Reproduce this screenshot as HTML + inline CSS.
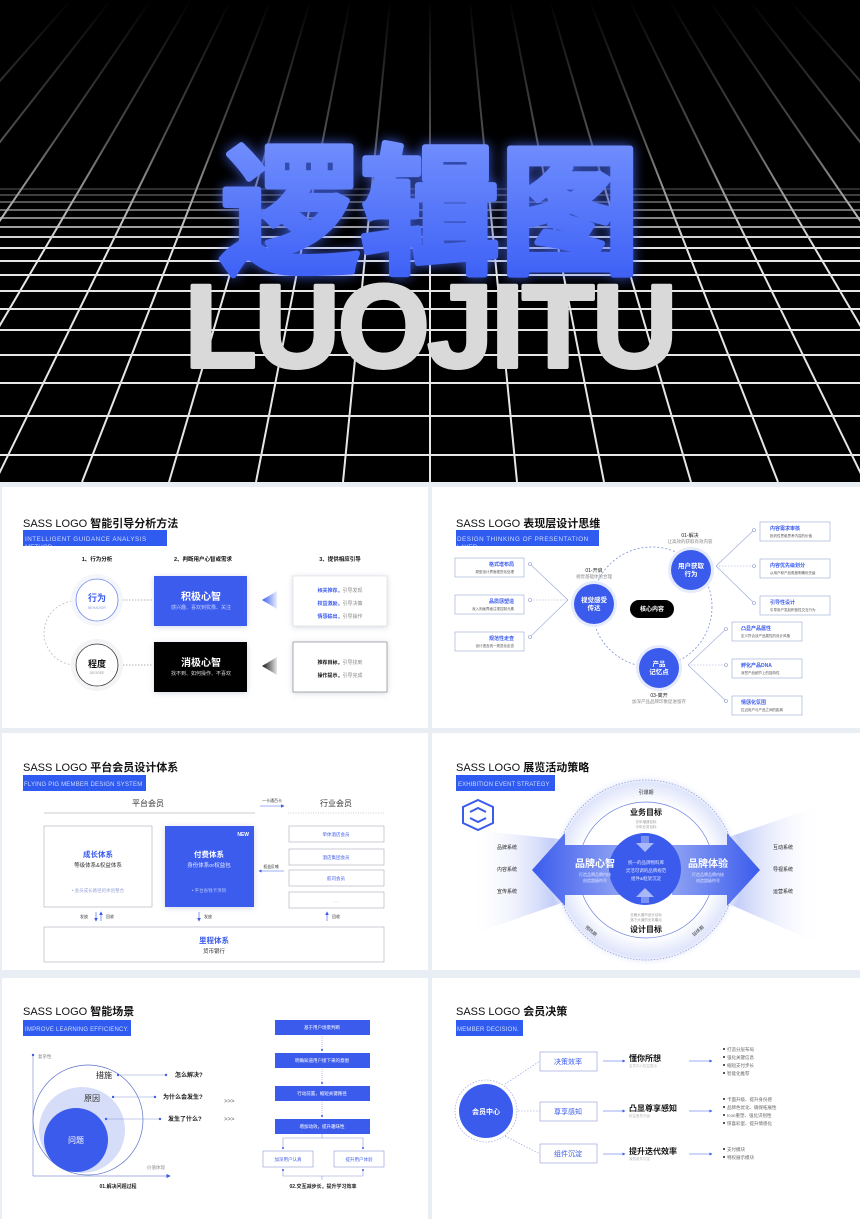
<!DOCTYPE html>
<html><head><meta charset="utf-8"><style>
html,body{margin:0;padding:0;background:#e9eef4;}
svg{display:block;}
text{font-family:"Liberation Sans","Noto Sans CJK SC",sans-serif;}
</style></head><body>
<svg width="860" height="1219" viewBox="0 0 860 1219" xmlns="http://www.w3.org/2000/svg">
<defs>
<linearGradient id="topfade" x1="0" y1="0" x2="0" y2="1">
<stop offset="0" stop-color="#000" stop-opacity="1"/><stop offset="0.55" stop-color="#000" stop-opacity="0.65"/><stop offset="1" stop-color="#000" stop-opacity="0"/></linearGradient>
<linearGradient id="cn" x1="0" y1="0" x2="0" y2="1"><stop offset="0" stop-color="#7f9bff"/><stop offset="1" stop-color="#3559f5"/></linearGradient>
<filter id="glow" x="-20%" y="-20%" width="140%" height="140%"><feGaussianBlur stdDeviation="6" result="b"/><feFlood flood-color="#4a6cff" flood-opacity="0.8"/><feComposite in2="b" operator="in"/><feMerge><feMergeNode/><feMergeNode in="SourceGraphic"/></feMerge></filter>
<filter id="sh" x="-20%" y="-20%" width="140%" height="140%"><feDropShadow dx="0" dy="1" stdDeviation="3" flood-color="#8090b0" flood-opacity="0.35"/></filter>
<linearGradient id="triB" x1="0" x2="1"><stop offset="0" stop-color="#3b5bed"/><stop offset="1" stop-color="#3b5bed" stop-opacity="0.1"/></linearGradient>
<linearGradient id="triK" x1="0" x2="1"><stop offset="0" stop-color="#111"/><stop offset="1" stop-color="#111" stop-opacity="0.1"/></linearGradient>
<linearGradient id="fanL" x1="1" x2="0"><stop offset="0" stop-color="#a9b8f5"/><stop offset="1" stop-color="#fff" stop-opacity="0"/></linearGradient>
<linearGradient id="fanR" x1="0" x2="1"><stop offset="0" stop-color="#a9b8f5"/><stop offset="1" stop-color="#fff" stop-opacity="0"/></linearGradient>
<linearGradient id="arrL" x1="0" x2="1"><stop offset="0" stop-color="#3b5bed"/><stop offset="1" stop-color="#8ea2f3"/></linearGradient>
<linearGradient id="arrR" x1="1" x2="0"><stop offset="0" stop-color="#3b5bed"/><stop offset="1" stop-color="#8ea2f3"/></linearGradient>
<radialGradient id="halo"><stop offset="0.7" stop-color="#fff"/><stop offset="0.9" stop-color="#dfe5fb"/><stop offset="1" stop-color="#fff" stop-opacity="0"/></radialGradient>
<marker id="ah" markerWidth="6" markerHeight="6" refX="5" refY="3" orient="auto"><path d="M0,0 L6,3 L0,6z" fill="#3b5bed"/></marker>
<clipPath id="c1"><rect x="23" y="530" width="144" height="16"/></clipPath>
<clipPath id="c2"><rect x="456" y="530" width="143" height="16"/></clipPath>
<clipPath id="c3"><rect x="23" y="775" width="123" height="16"/></clipPath>
<clipPath id="c4"><rect x="456" y="775" width="99" height="16"/></clipPath>
<clipPath id="c5"><rect x="23" y="1020" width="108" height="16"/></clipPath>
</defs>

<!-- HERO -->
<rect x="0" y="0" width="860" height="482" fill="#000"/>
<g stroke="#e6e6e6" stroke-width="2" fill="none">
<line x1="0" y1="455" x2="860" y2="455"/><line x1="0" y1="416" x2="860" y2="416"/><line x1="0" y1="383" x2="860" y2="383"/><line x1="0" y1="355" x2="860" y2="355"/><line x1="0" y1="330" x2="860" y2="330"/><line x1="0" y1="309" x2="860" y2="309"/><line x1="0" y1="291" x2="860" y2="291"/><line x1="0" y1="275" x2="860" y2="275"/><line x1="0" y1="261" x2="860" y2="261"/><line x1="0" y1="248" x2="860" y2="248"/><line x1="0" y1="237" x2="860" y2="237"/><line x1="0" y1="227" x2="860" y2="227" stroke-opacity="0.8"/><line x1="0" y1="218" x2="860" y2="218" stroke-opacity="0.7"/><line x1="0" y1="210" x2="860" y2="210" stroke-opacity="0.6"/><line x1="0" y1="202" x2="860" y2="202" stroke-opacity="0.5"/><line x1="0" y1="195" x2="860" y2="195" stroke-opacity="0.4"/><line x1="0" y1="189" x2="860" y2="189" stroke-opacity="0.3"/>
<line x1="430" y1="-408" x2="430" y2="482"/>
<line x1="430" y1="-408" x2="517" y2="482"/><line x1="430" y1="-408" x2="343" y2="482"/>
<line x1="430" y1="-408" x2="604" y2="482"/><line x1="430" y1="-408" x2="256" y2="482"/>
<line x1="430" y1="-408" x2="691" y2="482"/><line x1="430" y1="-408" x2="169" y2="482"/>
<line x1="430" y1="-408" x2="778" y2="482"/><line x1="430" y1="-408" x2="82" y2="482"/>
<line x1="430" y1="-408" x2="865" y2="482"/><line x1="430" y1="-408" x2="-5" y2="482"/>
<line x1="430" y1="-408" x2="952" y2="482"/><line x1="430" y1="-408" x2="-92" y2="482"/>
<line x1="430" y1="-408" x2="1039" y2="482"/><line x1="430" y1="-408" x2="-179" y2="482"/>
<line x1="430" y1="-408" x2="1126" y2="482"/><line x1="430" y1="-408" x2="-266" y2="482"/>
<line x1="430" y1="-408" x2="1213" y2="482"/><line x1="430" y1="-408" x2="-353" y2="482"/>
</g>
<rect x="0" y="0" width="860" height="250" fill="url(#topfade)"/>
<text x="430" y="262" text-anchor="middle" font-size="140" font-weight="bold" fill="url(#cn)" stroke="url(#cn)" stroke-width="6" stroke-linejoin="round" filter="url(#glow)" style="font-family:'Noto Sans CJK SC','WenQuanYi Zen Hei',sans-serif" letter-spacing="0">逻辑图</text>
<text x="430" y="367" text-anchor="middle" font-size="118" font-weight="bold" fill="#d9d9d9" stroke="#d9d9d9" stroke-width="4" stroke-linejoin="round" letter-spacing="-2">LUOJITU</text>

<!-- PANELS -->
<rect x="2" y="487" width="426" height="241" fill="#fff"/>
<rect x="432" y="487" width="428" height="241" fill="#fff"/>
<rect x="2" y="733" width="426" height="237" fill="#fff"/>
<rect x="432" y="733" width="428" height="237" fill="#fff"/>
<rect x="2" y="978" width="426" height="241" fill="#fff"/>
<rect x="432" y="978" width="428" height="241" fill="#fff"/>

<!-- Panel 1 -->
<text x="23" y="527" font-size="11" fill="#111">SASS LOGO <tspan font-weight="bold">智能引导分析方法</tspan></text>
<rect x="23" y="530" width="144" height="16" fill="#2f5bf0"/>
<g clip-path="url(#c1)"><text x="25" y="541" font-size="6.3" fill="#cfdcff" letter-spacing="0.5">INTELLIGENT GUIDANCE ANALYSIS</text><text x="25" y="549" font-size="6.3" fill="#cfdcff">METHOD</text></g>
<g font-size="5.5" font-weight="bold" fill="#111" text-anchor="middle">
<text x="97" y="561">1、行为分析</text><text x="203" y="561">2、判断用户心智或需求</text><text x="340" y="561">3、提供相应引导</text></g>
<path d="M76,601 A32,32 0 0 0 76,665" fill="none" stroke="#bbb" stroke-dasharray="2,2" stroke-width="0.8"/>
<line x1="123" y1="600" x2="152" y2="600" stroke="#999" stroke-dasharray="1.5,1.5" stroke-width="0.8"/>
<line x1="123" y1="665" x2="152" y2="665" stroke="#999" stroke-dasharray="1.5,1.5" stroke-width="0.8"/>
<circle cx="97" cy="600" r="26" fill="#f4f6fc"/><circle cx="97" cy="600" r="21" fill="#fff" stroke="#6d86e8" stroke-width="0.8"/>
<text x="97" y="601" font-size="9" font-weight="bold" fill="#3b5bed" text-anchor="middle">行为</text><text x="97" y="609" font-size="3.5" fill="#8fa0e0" text-anchor="middle">BEHAVIOR</text>
<circle cx="97" cy="665" r="26" fill="#f4f4f6"/><circle cx="97" cy="665" r="21" fill="#fff" stroke="#333" stroke-width="0.8"/>
<text x="97" y="667" font-size="9" font-weight="bold" fill="#111" text-anchor="middle">程度</text><text x="97" y="674" font-size="3.5" fill="#999" text-anchor="middle">DEGREE</text>
<rect x="154" y="576" width="93" height="50" fill="#3b5bed" filter="url(#sh)"/>
<text x="201" y="600" font-size="10" font-weight="bold" fill="#fff" text-anchor="middle">积极心智</text>
<text x="201" y="609" font-size="5" fill="#c5d0fb" text-anchor="middle">感兴趣、喜欢到犹豫、关注</text>
<rect x="154" y="642" width="93" height="50" fill="#000" filter="url(#sh)"/>
<text x="201" y="666" font-size="10" font-weight="bold" fill="#fff" text-anchor="middle">消极心智</text>
<text x="201" y="675" font-size="5" fill="#ddd" text-anchor="middle">找不到、如何操作、不喜欢</text>
<polygon points="262,600 277,591 277,609" fill="url(#triB)"/>
<polygon points="262,666 277,657 277,675" fill="url(#triK)"/>
<rect x="293" y="576" width="94" height="50" fill="#fff" stroke="#ddd" stroke-width="0.6" filter="url(#sh)"/>
<g font-size="5" text-anchor="middle"><text x="340" y="592"><tspan fill="#3b5bed" font-weight="bold">相关推荐，</tspan><tspan fill="#888">引导发现</tspan></text>
<text x="340" y="605"><tspan fill="#3b5bed" font-weight="bold">权益激励，</tspan><tspan fill="#888">引导决策</tspan></text>
<text x="340" y="618"><tspan fill="#3b5bed" font-weight="bold">情感输出，</tspan><tspan fill="#888">引导操作</tspan></text></g>
<rect x="293" y="642" width="94" height="50" fill="#fff" stroke="#777" stroke-width="0.6" filter="url(#sh)"/>
<g font-size="5" text-anchor="middle"><text x="340" y="664"><tspan fill="#111" font-weight="bold">推荐目标，</tspan><tspan fill="#888">引导找到</tspan></text>
<text x="340" y="677"><tspan fill="#111" font-weight="bold">操作提示，</tspan><tspan fill="#888">引导完成</tspan></text></g>

<!-- Panel 2 -->
<text x="456" y="527" font-size="11" fill="#111">SASS LOGO <tspan font-weight="bold">表现层设计思维</tspan></text>
<rect x="456" y="530" width="143" height="16" fill="#2f5bf0"/>
<g clip-path="url(#c2)"><text x="457" y="541" font-size="6.3" fill="#cfdcff" letter-spacing="0.5">DESIGN THINKING OF PRESENTATION</text><text x="457" y="549" font-size="6.3" fill="#cfdcff">LAYER</text></g>
<circle cx="652" cy="607" r="60" fill="none" stroke="#7d8fd8" stroke-width="0.8" stroke-dasharray="2,2"/>
<g stroke="#9aa8d6" stroke-width="0.6" fill="none">
<line x1="530" y1="564" x2="568" y2="600"/><line x1="530" y1="600" x2="568" y2="600" stroke-dasharray="1.5,1.5"/><line x1="530" y1="637" x2="568" y2="600"/>
<line x1="716" y1="566" x2="754" y2="530"/><line x1="716" y1="566" x2="754" y2="566" stroke-dasharray="1.5,1.5"/><line x1="716" y1="566" x2="754" y2="603"/>
<line x1="688" y1="665" x2="726" y2="629"/><line x1="688" y1="665" x2="726" y2="665" stroke-dasharray="1.5,1.5"/><line x1="688" y1="665" x2="726" y2="701"/></g>
<g fill="#fff" stroke="#8795c8" stroke-width="0.6"><circle cx="530" cy="564" r="1.5"/><circle cx="530" cy="600" r="1.5"/><circle cx="530" cy="637" r="1.5"/><circle cx="754" cy="530" r="1.5"/><circle cx="754" cy="566" r="1.5"/><circle cx="754" cy="603" r="1.5"/><circle cx="726" cy="629" r="1.5"/><circle cx="726" cy="665" r="1.5"/><circle cx="726" cy="701" r="1.5"/></g>
<g fill="#fff" stroke="#9aa8d6" stroke-width="0.6">
<rect x="455" y="558" width="69" height="19"/><rect x="455" y="595" width="69" height="19"/><rect x="455" y="632" width="69" height="19"/>
<rect x="760" y="522" width="70" height="19"/><rect x="760" y="559" width="70" height="19"/><rect x="760" y="596" width="70" height="19"/>
<rect x="732" y="622" width="70" height="19"/><rect x="732" y="659" width="70" height="19"/><rect x="732" y="696" width="70" height="19"/></g>
<g font-size="5" fill="#3b5bed" font-weight="bold">
<text x="514" y="566" text-anchor="end">格式塔布局</text><text x="514" y="603" text-anchor="end">品质感塑造</text><text x="514" y="640" text-anchor="end">规范性走查</text>
<text x="770" y="530">内容需求审核</text><text x="770" y="567">内容优先级划分</text><text x="770" y="604">引导性设计</text>
<text x="741" y="630">凸显产品属性</text><text x="741" y="667">孵化产品DNA</text><text x="741" y="704">情感化氛围</text></g>
<g font-size="3.5" fill="#555">
<text x="514" y="573" text-anchor="end">原型设计界面视觉化处理</text><text x="514" y="610" text-anchor="end">深入刻画界面注视控制元素</text><text x="514" y="647" text-anchor="end">设计语言统一规范化走查</text>
<text x="770" y="537">批判性思维思考内容的价值</text><text x="770" y="574">从用户和产品角度明确优先级</text><text x="770" y="611">引导用户发起积极性交互行为</text>
<text x="741" y="637">定义符合该产品属性的设计风格</text><text x="741" y="674">深挖产品细节上的独特性</text><text x="741" y="711">拉近用户与产品之间的距离</text></g>
<circle cx="594" cy="604" r="23" fill="#e6ebfc"/><circle cx="594" cy="604" r="20" fill="#3b5bed"/>
<text x="594" y="602" font-size="6.5" font-weight="bold" fill="#fff" text-anchor="middle">视觉感受</text><text x="594" y="610" font-size="6.5" font-weight="bold" fill="#fff" text-anchor="middle">传达</text>
<circle cx="691" cy="570" r="23" fill="#e6ebfc"/><circle cx="691" cy="570" r="20" fill="#3b5bed"/>
<text x="691" y="568" font-size="6.5" font-weight="bold" fill="#fff" text-anchor="middle">用户获取</text><text x="691" y="576" font-size="6.5" font-weight="bold" fill="#fff" text-anchor="middle">行为</text>
<circle cx="659" cy="668" r="23" fill="#e6ebfc"/><circle cx="659" cy="668" r="20" fill="#3b5bed"/>
<text x="659" y="666" font-size="6.5" font-weight="bold" fill="#fff" text-anchor="middle">产品</text><text x="659" y="674" font-size="6.5" font-weight="bold" fill="#fff" text-anchor="middle">记忆点</text>
<rect x="630" y="600" width="44" height="18" rx="9" fill="#000"/>
<text x="652" y="611" font-size="6" font-weight="bold" fill="#fff" text-anchor="middle">核心内容</text>
<g font-size="5" text-anchor="middle"><text x="594" y="572" fill="#222">01-开启</text><text x="594" y="578" fill="#888" font-size="4.5">视觉基础体验合理</text>
<text x="690" y="537" fill="#222">01-解决</text><text x="690" y="543" fill="#888" font-size="4.5">让高效的获取有效内容</text>
<text x="659" y="697" fill="#222">03-离开</text><text x="659" y="703" fill="#888" font-size="4.5">加深产品品牌印象促进留存</text></g>

<!-- Panel 3 -->
<text x="23" y="771" font-size="11" fill="#111">SASS LOGO <tspan font-weight="bold">平台会员设计体系</tspan></text>
<rect x="23" y="775" width="123" height="16" fill="#2f5bf0"/>
<g clip-path="url(#c3)"><text x="24" y="786" font-size="6" fill="#cfdcff" letter-spacing="0.2">FLYING PIG MEMBER DESIGN SYSTEM</text></g>
<text x="148" y="806" font-size="8" fill="#333" text-anchor="middle">平台会员</text>
<text x="336" y="806" font-size="8" fill="#333" text-anchor="middle">行业会员</text>
<line x1="44" y1="813" x2="255" y2="813" stroke="#999" stroke-width="0.6"/>
<line x1="288" y1="813" x2="385" y2="813" stroke="#999" stroke-width="0.6" stroke-dasharray="1,1.5"/>
<text x="272" y="802" font-size="4" fill="#333" text-anchor="middle">一卡通百卡</text>
<line x1="260" y1="806" x2="284" y2="806" stroke="#3b5bed" stroke-width="0.6" marker-end="url(#ah)"/>
<rect x="44" y="826" width="108" height="81" fill="#fff" stroke="#aab" stroke-width="0.6"/>
<text x="98" y="857" font-size="7.5" font-weight="bold" fill="#3b5bed" text-anchor="middle">成长体系</text>
<text x="98" y="867" font-size="5.5" fill="#333" text-anchor="middle">等级体系&amp;权益体系</text>
<text x="98" y="892" font-size="4.5" fill="#9aa6d8" text-anchor="middle">• 会员成长路径的体验整合</text>
<rect x="165" y="826" width="89" height="81" fill="#3b5bed" filter="url(#sh)"/>
<text x="249" y="836" font-size="5" font-weight="bold" fill="#fff" text-anchor="end">NEW</text>
<text x="209" y="857" font-size="7.5" font-weight="bold" fill="#fff" text-anchor="middle">付费体系</text>
<text x="209" y="867" font-size="5.5" fill="#e4e9ff" text-anchor="middle">身份体系or权益包</text>
<text x="209" y="892" font-size="4.5" fill="#b8c5fa" text-anchor="middle">• 平台省钱卡项目</text>
<g fill="#fff" stroke="#aab" stroke-width="0.6"><rect x="289" y="826" width="95" height="16"/><rect x="289" y="849" width="95" height="16"/><rect x="289" y="870" width="95" height="16"/><rect x="289" y="892" width="95" height="16"/></g>
<g font-size="4.5" fill="#3b5bed" text-anchor="middle"><text x="336" y="836">单体酒店会员</text><text x="336" y="859">酒店集团会员</text><text x="336" y="880">航司会员</text><text x="336" y="902" fill="#999">...</text></g>
<text x="271" y="868" font-size="3.8" fill="#333" text-anchor="middle">权益反哺</text>
<line x1="284" y1="871" x2="259" y2="871" stroke="#3b5bed" stroke-width="0.5" marker-end="url(#ah)"/>
<g stroke="#3b5bed" stroke-width="0.6"><line x1="96" y1="912" x2="96" y2="921" marker-end="url(#ah)"/><line x1="101" y1="921" x2="101" y2="912" marker-end="url(#ah)"/><line x1="199" y1="912" x2="199" y2="921" marker-end="url(#ah)"/><line x1="327" y1="921" x2="327" y2="912" marker-end="url(#ah)"/></g>
<g font-size="4" fill="#333"><text x="80" y="918">发放</text><text x="106" y="918">回收</text><text x="204" y="918">发放</text><text x="332" y="918">回收</text></g>
<rect x="44" y="927" width="340" height="35" fill="#fff" stroke="#aab" stroke-width="0.6"/>
<text x="214" y="943" font-size="7.5" font-weight="bold" fill="#3b5bed" text-anchor="middle">里程体系</text>
<text x="214" y="953" font-size="5.5" fill="#333" text-anchor="middle">货币银行</text>

<!-- Panel 4 -->
<text x="456" y="771" font-size="11" fill="#111">SASS LOGO <tspan font-weight="bold">展览活动策略</tspan></text>
<rect x="456" y="775" width="99" height="16" fill="#2f5bf0"/>
<g clip-path="url(#c4)"><text x="458" y="786" font-size="6" fill="#cfdcff" letter-spacing="0.1">EXHIBITION EVENT STRATEGY</text></g>
<polygon points="470,830 570,840 570,900 470,935" fill="url(#fanL)"/>
<polygon points="822,805 720,840 720,900 822,945" fill="url(#fanR)"/>
<circle cx="646" cy="870" r="97" fill="url(#halo)"/>
<circle cx="646" cy="870" r="90" fill="none" stroke="#8a9ad8" stroke-width="0.7" stroke-dasharray="1.5,1.5"/>
<circle cx="646" cy="870" r="68" fill="#fff" stroke="#6d82de" stroke-width="0.7"/>
<polygon points="532,870 565,833 565,845 620,845 620,895 565,895 565,906" fill="url(#arrL)"/>
<polygon points="760,870 727,833 727,845 672,845 672,895 727,895 727,906" fill="url(#arrR)"/>
<circle cx="645" cy="869" r="36" fill="#3b5bed"/>
<polygon points="645,852 636,843 654,843" fill="#a9b8f6"/><rect x="641" y="836" width="8" height="8" fill="#a9b8f6" opacity="0.6"/>
<polygon points="645,888 636,897 654,897" fill="#a9b8f6"/><rect x="641" y="896" width="8" height="7" fill="#a9b8f6" opacity="0.6"/>
<g font-size="4.5" fill="#dfe5ff" text-anchor="middle"><text x="646" y="864">统一的品牌物料库</text><text x="646" y="872">灵活可调的品牌规范</text><text x="646" y="880">组件&amp;框架沉淀</text></g>
<text x="595" y="867" font-size="10" font-weight="bold" fill="#fff" text-anchor="middle">品牌心智</text>
<text x="595" y="876" font-size="4" fill="#dfe5ff" text-anchor="middle">打造品牌品牌内核</text><text x="595" y="882" font-size="4" fill="#dfe5ff" text-anchor="middle">创造超级符号</text>
<text x="708" y="867" font-size="10" font-weight="bold" fill="#fff" text-anchor="middle">品牌体验</text>
<text x="708" y="876" font-size="4" fill="#dfe5ff" text-anchor="middle">打造品牌品牌内核</text><text x="708" y="882" font-size="4" fill="#dfe5ff" text-anchor="middle">创造超级符号</text>
<text x="646" y="794" font-size="5" fill="#333" text-anchor="middle">引爆期</text>
<text x="646" y="815" font-size="8" font-weight="bold" fill="#111" text-anchor="middle">业务目标</text>
<text x="646" y="823" font-size="3.5" fill="#999" text-anchor="middle">去年增速目标</text><text x="646" y="828" font-size="3.5" fill="#999" text-anchor="middle">今年业务目标</text>
<text x="646" y="916" font-size="3.5" fill="#999" text-anchor="middle">去稿大道市设计目标</text><text x="646" y="921" font-size="3.5" fill="#999" text-anchor="middle">落下大道的业务痛点</text>
<text x="646" y="932" font-size="8" font-weight="bold" fill="#111" text-anchor="middle">设计目标</text>
<text x="590" y="932" font-size="4.5" fill="#333" text-anchor="middle" transform="rotate(40 590 932)">预热期</text>
<text x="699" y="932" font-size="4.5" fill="#333" text-anchor="middle" transform="rotate(-40 699 932)">延续期</text>
<g font-size="5" fill="#222" text-anchor="middle"><text x="507" y="849">品牌系统</text><text x="507" y="871">内容系统</text><text x="507" y="893">宣传系统</text><text x="783" y="849">互动系统</text><text x="783" y="871">导视系统</text><text x="783" y="893">运营系统</text></g>
<g fill="none" stroke="#3b5bed" stroke-width="2"><polygon points="478,800 493,807 493,823 478,830 463,823 463,807"/><path d="M470,812 L478,808 L486,812 M470,818 L478,822 L486,818"/></g>

<!-- Panel 5 -->
<text x="23" y="1015" font-size="11" fill="#111">SASS LOGO <tspan font-weight="bold">智能场景</tspan></text>
<rect x="23" y="1020" width="108" height="16" fill="#2f5bf0"/>
<g clip-path="url(#c5)"><text x="25" y="1031" font-size="6" fill="#cfdcff" letter-spacing="0.2">IMPROVE LEARNING EFFICIENCY.</text></g>
<line x1="33" y1="1054" x2="33" y2="1176" stroke="#8a98d6" stroke-width="0.7"/>
<line x1="33" y1="1176" x2="170" y2="1176" stroke="#8a98d6" stroke-width="0.7" marker-end="url(#ah)"/>
<circle cx="33" cy="1055" r="1.2" fill="#3b5bed"/>
<text x="38" y="1058" font-size="4.5" fill="#888">复杂性</text><text x="147" y="1169" font-size="4.5" fill="#888">价值体现</text>
<circle cx="88" cy="1120" r="55" fill="#fff" stroke="#5c70c8" stroke-width="0.7"/>
<circle cx="82" cy="1130" r="43" fill="#d5ddf8"/>
<circle cx="76" cy="1140" r="32" fill="#3b5bed"/>
<text x="104" y="1078" font-size="8" fill="#222" text-anchor="middle">措施</text>
<text x="92" y="1101" font-size="8" fill="#333" text-anchor="middle">原因</text>
<text x="76" y="1143" font-size="8" fill="#fff" text-anchor="middle">问题</text>
<g stroke="#8a98d6" stroke-width="0.6"><line x1="118" y1="1075" x2="166" y2="1075"/><line x1="113" y1="1097" x2="155" y2="1097"/><line x1="106" y1="1119" x2="160" y2="1119"/></g>
<g fill="#3b5bed"><circle cx="118" cy="1075" r="1.2"/><circle cx="166" cy="1075" r="1.2"/><circle cx="113" cy="1097" r="1.2"/><circle cx="155" cy="1097" r="1.2"/><circle cx="106" cy="1119" r="1.2"/><circle cx="160" cy="1119" r="1.2"/></g>
<g font-size="6" font-weight="bold" fill="#222"><text x="175" y="1077">怎么解决?</text><text x="163" y="1099">为什么会发生?</text><text x="168" y="1121">发生了什么?</text></g>
<g font-size="6" fill="#666"><text x="224" y="1103">&gt;&gt;&gt;</text><text x="224" y="1121">&gt;&gt;&gt;</text></g>
<text x="118" y="1188" font-size="5" font-weight="bold" fill="#222" text-anchor="middle">01.解决问题过程</text>
<g fill="#3b5bed"><rect x="275" y="1020" width="95" height="15"/><rect x="275" y="1053" width="95" height="15"/><rect x="275" y="1086" width="95" height="15"/><rect x="275" y="1119" width="95" height="15"/></g>
<g font-size="4.5" fill="#fff" text-anchor="middle"><text x="322" y="1029">基于用户场景判断</text><text x="322" y="1062">明确知道用户接下来的意图</text><text x="322" y="1095">行动前置，缩短关键路径</text><text x="322" y="1128">增加动效，提升趣味性</text></g>
<g stroke="#8a98d6" stroke-width="0.6" fill="none"><line x1="322" y1="1036" x2="322" y2="1051" stroke-dasharray="1,1"/><line x1="322" y1="1069" x2="322" y2="1084" stroke-dasharray="1,1"/><line x1="322" y1="1102" x2="322" y2="1117" stroke-dasharray="1,1"/>
<path d="M283,1148 V1138 H363 V1148"/><line x1="322" y1="1134" x2="322" y2="1138"/><path d="M283,1170 V1176 H363 V1170"/><line x1="322" y1="1176" x2="322" y2="1180"/></g>
<g fill="#3b5bed"><circle cx="322" cy="1050" r="1"/><circle cx="322" cy="1083" r="1"/><circle cx="322" cy="1116" r="1"/><circle cx="283" cy="1148" r="1"/><circle cx="363" cy="1148" r="1"/><circle cx="283" cy="1170" r="1"/><circle cx="363" cy="1170" r="1"/></g>
<rect x="263" y="1151" width="50" height="16" fill="#fff" stroke="#8a98d6" stroke-width="0.6"/>
<rect x="334" y="1151" width="50" height="16" fill="#fff" stroke="#8a98d6" stroke-width="0.6"/>
<text x="288" y="1161" font-size="4.5" fill="#3b5bed" text-anchor="middle">加深用户认真</text><text x="359" y="1161" font-size="4.5" fill="#3b5bed" text-anchor="middle">提升用户体验</text>
<text x="323" y="1188" font-size="5" font-weight="bold" fill="#222" text-anchor="middle">02.交互减步长，提升学习效率</text>

<!-- Panel 6 -->
<text x="456" y="1015" font-size="11" fill="#111">SASS LOGO <tspan font-weight="bold">会员决策</tspan></text>
<rect x="456" y="1020" width="67" height="16" fill="#2f5bf0"/>
<text x="457" y="1031" font-size="6" fill="#cfdcff" letter-spacing="0.2">MEMBER DECISION.</text>
<g stroke="#8a98d6" stroke-width="0.6" stroke-dasharray="1.5,1.5" fill="none"><line x1="505" y1="1084" x2="540" y2="1061"/><line x1="518" y1="1111" x2="540" y2="1111"/><line x1="505" y1="1136" x2="540" y2="1154"/></g>
<circle cx="486" cy="1111" r="31" fill="#fff" stroke="#8a98d6" stroke-width="0.6" stroke-dasharray="1.5,1.5"/>
<circle cx="486" cy="1111" r="27" fill="#3b5bed"/>
<text x="486" y="1114" font-size="7" font-weight="bold" fill="#fff" text-anchor="middle">会员中心</text>
<g fill="#fff" stroke="#8a98d6" stroke-width="0.6"><rect x="540" y="1052" width="57" height="19"/><rect x="540" y="1102" width="57" height="19"/><rect x="540" y="1144" width="57" height="19"/></g>
<g font-size="7" fill="#3b5bed" text-anchor="middle"><text x="568" y="1064">决策效率</text><text x="568" y="1114">尊享感知</text><text x="568" y="1156">组件沉淀</text></g>
<g stroke="#3b5bed" stroke-width="0.5"><line x1="603" y1="1061" x2="625" y2="1061" marker-end="url(#ah)"/><line x1="603" y1="1111" x2="625" y2="1111" marker-end="url(#ah)"/><line x1="603" y1="1154" x2="625" y2="1154" marker-end="url(#ah)"/>
<line x1="689" y1="1061" x2="712" y2="1061" marker-end="url(#ah)"/><line x1="689" y1="1111" x2="712" y2="1111" marker-end="url(#ah)"/><line x1="689" y1="1154" x2="712" y2="1154" marker-end="url(#ah)"/></g>
<g font-size="8" font-weight="bold" fill="#111"><text x="629" y="1061">懂你所想</text><text x="629" y="1111">凸显尊享感知</text><text x="629" y="1154">提升迭代效率</text></g>
<g font-size="3.5" fill="#bbb"><text x="629" y="1067">会员中心权益整合</text><text x="629" y="1117">权益差异升级</text><text x="629" y="1160">减低组件沉淀</text></g>
<g font-size="4.5" fill="#666"><text x="727" y="1051">打造分层布局</text><text x="727" y="1059">强化关键信息</text><text x="727" y="1067">缩短支付步长</text><text x="727" y="1075">智能化推荐</text>
<text x="727" y="1101">卡面升级、提升身份感</text><text x="727" y="1109">品牌色优化、确保拓展性</text><text x="727" y="1117">Icon重塑、强化识别性</text><text x="727" y="1125">惊喜彩蛋、提升情感化</text>
<text x="727" y="1151">支付模块</text><text x="727" y="1159">特权展示模块</text></g>
<g fill="#222"><circle cx="724" cy="1049" r="1"/><circle cx="724" cy="1057" r="1"/><circle cx="724" cy="1065" r="1"/><circle cx="724" cy="1073" r="1"/><circle cx="724" cy="1099" r="1"/><circle cx="724" cy="1107" r="1"/><circle cx="724" cy="1115" r="1"/><circle cx="724" cy="1123" r="1"/><circle cx="724" cy="1149" r="1"/><circle cx="724" cy="1157" r="1"/></g>
</svg>
</body></html>
